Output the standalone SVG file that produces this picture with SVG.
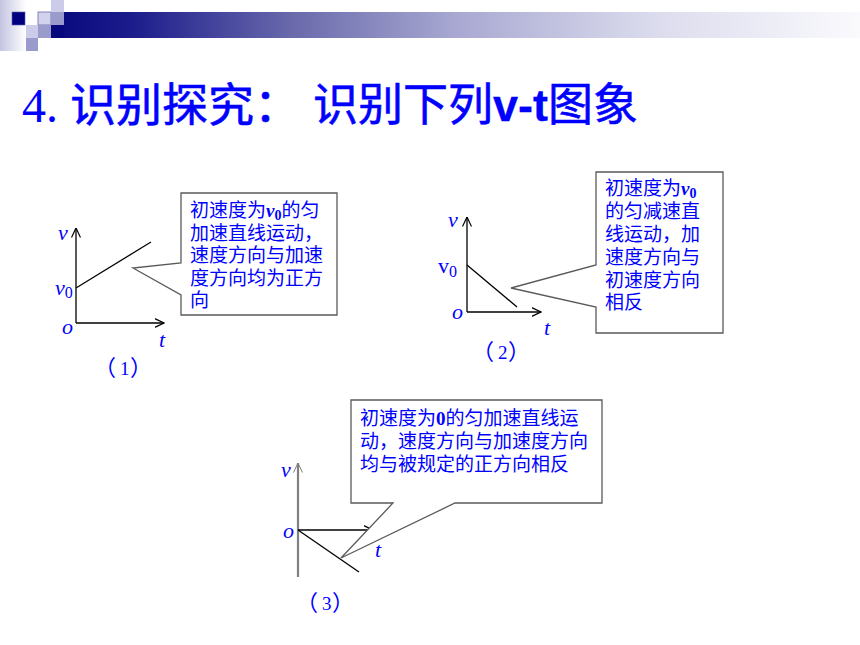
<svg xmlns="http://www.w3.org/2000/svg" width="860" height="645" viewBox="0 0 860 645">
<style>
.lab{font-family:"Liberation Serif",serif;font-style:italic;font-size:22px;fill:#0000ff}
.num{font-family:"Noto Sans CJK SC",sans-serif;font-size:22px;fill:#0000ff}
.cj{font-family:"Noto Sans CJK SC",sans-serif;font-size:19px;fill:#0000ff}
.vb{font-family:"Liberation Serif",serif;font-weight:bold}
.ax{stroke:#000;stroke-width:1.3;fill:none}
.co{fill:#fff;stroke:#5a5a5a;stroke-width:1.3;stroke-linejoin:miter}
.ttl{font-family:"Noto Sans CJK SC",sans-serif;font-size:45px;fill:#0000ff;stroke:#0000ff;stroke-width:0.6}
</style>
<defs>
<linearGradient id="bar" x1="51" y1="0" x2="860" y2="0" gradientUnits="userSpaceOnUse">
<stop offset="0" stop-color="#08087e"/>
<stop offset="0.1" stop-color="#1c1c8c"/>
<stop offset="0.3" stop-color="#6a6aac"/>
<stop offset="0.5" stop-color="#a8a8d2"/>
<stop offset="0.75" stop-color="#dcdcee"/>
<stop offset="1" stop-color="#fafafd"/>
</linearGradient>
<linearGradient id="fade" x1="0" y1="0" x2="1" y2="0">
<stop offset="0" stop-color="#c4c4e2"/>
<stop offset="1" stop-color="#ffffff"/>
</linearGradient>
<marker id="arr" viewBox="0 0 10 10" refX="9.5" refY="5" markerWidth="10" markerHeight="10" markerUnits="userSpaceOnUse" orient="auto">
<path d="M0,0.5 L9.5,5 L0,9.5" fill="none" stroke="#000" stroke-width="1.2"/>
</marker>
<marker id="arrg" viewBox="0 0 10 10" refX="9.5" refY="5" markerWidth="10" markerHeight="10" markerUnits="userSpaceOnUse" orient="auto">
<path d="M0,0.5 L9.5,5 L0,9.5" fill="none" stroke="#808080" stroke-width="1"/>
</marker>
</defs>
<rect width="860" height="645" fill="#fff"/>
<g id="header">
<rect x="0" y="0" width="26" height="51" fill="url(#fade)"/>
<rect x="64" y="12" width="796" height="26" fill="url(#bar)"/>
<rect x="51" y="25" width="13" height="13" fill="#08087e"/>
<rect x="12" y="12" width="13" height="13" fill="#000080" stroke="#5a5aa8" stroke-width="0.6"/>
<rect x="38" y="12" width="13" height="13" fill="#d2d2ec" stroke="#6a6ab0" stroke-width="0.8"/>
<rect x="51" y="0" width="13" height="12" fill="#ccccea"/>
<rect x="51" y="12" width="13" height="13" fill="#9a9acc"/>
<rect x="26" y="25" width="12" height="13" fill="#ccccea"/>
<rect x="38" y="25" width="13" height="13" fill="#9a9acc"/>
<rect x="26" y="38" width="12" height="13" fill="#9a9acc"/>
</g>
<g id="title">
<text x="22" y="122" font-family="Liberation Serif,serif" font-size="48" fill="#0000ff">4.</text>
<text x="70" y="121" class="ttl" style="font-size:46px">识别探究：</text>
<text x="313" y="121" class="ttl">识别下列<tspan font-family="Liberation Sans,Arial,sans-serif" font-weight="bold" stroke-width="0.3">v-t</tspan>图象</text>
</g>
<g id="graph1">
<line class="ax" x1="76" y1="323" x2="76" y2="228" marker-end="url(#arr)"/>
<line class="ax" x1="76" y1="323" x2="164" y2="323" marker-end="url(#arr)"/>
<line class="ax" x1="76" y1="288" x2="151" y2="242" stroke-width="1.1"/>
<text class="lab" x="58" y="240">v</text>
<text class="lab" x="55" y="295">v<tspan font-style="normal" font-size="16" dy="3">0</tspan></text>
<text class="lab" x="62" y="334">o</text>
<text class="lab" x="159" y="347">t</text>
<text class="num" x="94 120 130" y="375">（<tspan font-family="Liberation Serif,serif" font-size="19">1</tspan>）</text>
</g>
<g id="graph2">
<line class="ax" x1="467" y1="312" x2="467" y2="217" marker-end="url(#arr)"/>
<line class="ax" x1="467" y1="312" x2="541" y2="312" marker-end="url(#arr)"/>
<line class="ax" x1="467" y1="265" x2="517" y2="307" stroke-width="1.1"/>
<text class="lab" x="448" y="227">v</text>
<text class="lab" x="438" y="273" style="font-style:normal">v<tspan font-size="16" dy="4">0</tspan></text>
<text class="lab" x="452" y="319">o</text>
<text class="lab" x="544" y="335">t</text>
<text class="num" x="472 498 508" y="359">（<tspan font-family="Liberation Serif,serif" font-size="19">2</tspan>）</text>
</g>
<g id="graph3">
<line x1="298" y1="577" x2="298" y2="463" stroke="#808080" stroke-width="2.2" marker-end="url(#arrg)"/>
<line class="ax" x1="298" y1="530" x2="373" y2="530" marker-end="url(#arr)"/>
<line class="ax" x1="298" y1="530" x2="359" y2="572" stroke-width="1.1"/>
<text class="lab" x="281" y="477">v</text>
<text class="lab" x="283" y="538">o</text>
<text class="lab" x="375" y="557">t</text>
<text class="num" x="296 322 332" y="610">（<tspan font-family="Liberation Serif,serif" font-size="19">3</tspan>）</text>
</g>
<g id="callout1">
<path class="co" d="M181,263 L181,193 L337,193 L337,315 L181,315 L181,295 L133,268 Z"/>
<text class="cj"><tspan x="190" y="217">初速度为</tspan><tspan class="vb" font-style="italic">v</tspan><tspan class="vb" font-size="14" dy="3">0</tspan><tspan dy="-3">的匀</tspan><tspan x="190" y="239.5">加速直线运动，</tspan><tspan x="190" y="262">速度方向与加速</tspan><tspan x="190" y="284.5">度方向均为正方</tspan><tspan x="190" y="307">向</tspan></text>
</g>
<g id="callout2">
<path class="co" d="M596,265 L596,172 L723,172 L723,333 L596,333 L596,307 L511,288 Z"/>
<text class="cj"><tspan x="605" y="195">初速度为</tspan><tspan class="vb" font-style="italic">v</tspan><tspan class="vb" font-size="14" dy="3">0</tspan><tspan x="605" y="218">的匀减速直</tspan><tspan x="605" y="241">线运动，加</tspan><tspan x="605" y="264">速度方向与</tspan><tspan x="605" y="286.5">初速度方向</tspan><tspan x="605" y="309">相反</tspan></text>
</g>
<g id="callout3">
<path class="co" d="M393,503 L351,503 L351,400 L602,400 L602,503 L455,503 L341,558 Z"/>
<text class="cj"><tspan x="360" y="425">初速度为</tspan><tspan class="vb">0</tspan><tspan>的匀加速直线运</tspan><tspan x="360" y="448">动，速度方向与加速度方向</tspan><tspan x="360" y="470.5">均与被规定的正方向相反</tspan></text>
</g>
</svg>
